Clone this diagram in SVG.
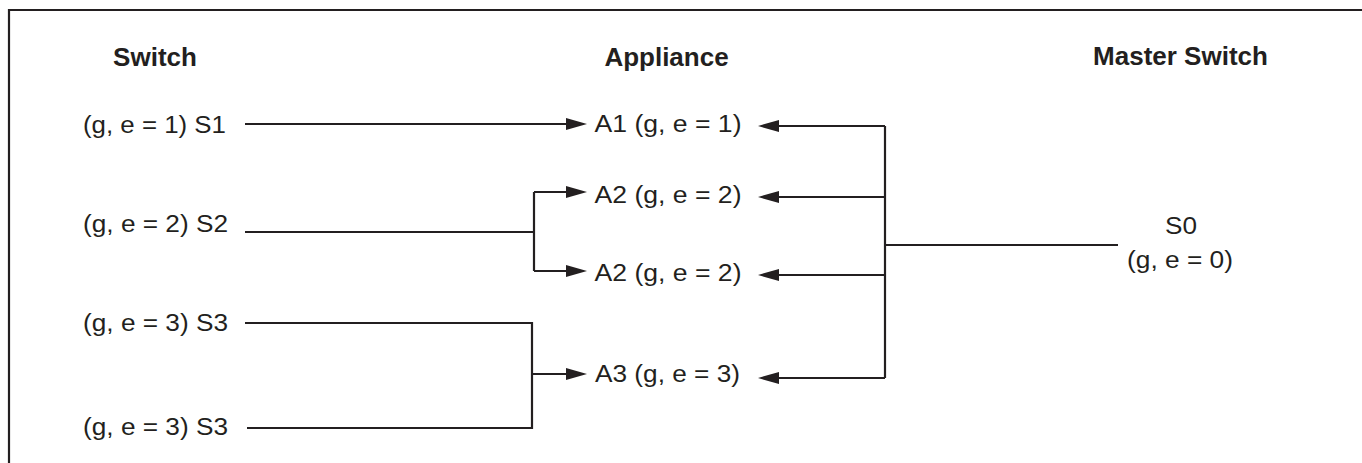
<svg xmlns="http://www.w3.org/2000/svg" width="1362" height="463" viewBox="0 0 1362 463">
<style>
.hd{font-family:"Liberation Sans",Arial,sans-serif;font-weight:bold;font-size:26px;fill:#231f20;text-anchor:middle}
.t{font-family:"Liberation Sans",Arial,sans-serif;font-size:23px;fill:#231f20}
.ln{fill:none;stroke:#231f20;stroke-width:2.2}
.ar{fill:none;stroke:#231f20;stroke-width:2.2;marker-end:url(#ah)}
</style>
<defs>
<marker id="ah" markerUnits="userSpaceOnUse" markerWidth="22" markerHeight="12" refX="6" refY="6" orient="auto" viewBox="0 0 22 12">
<path d="M0,0 L21,6 L0,12 z" fill="#231f20"/>
</marker>
</defs>
<rect width="1362" height="463" fill="#fff"/>
<path class="ln" d="M9,463 V10 H1362"/>
<g id="headers">
<text class="hd" x="155" y="66">Switch</text>
<text class="hd" x="666.5" y="66">Appliance</text>
<text class="hd" x="1180.5" y="65">Master Switch</text>
</g>
<g id="S1"><text class="t" x="83" y="132.5" textLength="143" lengthAdjust="spacingAndGlyphs">(g, e = 1) S1</text></g>
<g id="S2"><text class="t" x="83" y="231.5" textLength="145" lengthAdjust="spacingAndGlyphs">(g, e = 2) S2</text></g>
<g id="S3a"><text class="t" x="83" y="331" textLength="145" lengthAdjust="spacingAndGlyphs">(g, e = 3) S3</text></g>
<g id="S3b"><text class="t" x="83" y="435" textLength="145" lengthAdjust="spacingAndGlyphs">(g, e = 3) S3</text></g>
<g id="A1"><text class="t" x="594.5" y="132" textLength="147" lengthAdjust="spacingAndGlyphs">A1 (g, e = 1)</text></g>
<g id="A2a"><text class="t" x="594.5" y="203" textLength="147" lengthAdjust="spacingAndGlyphs">A2 (g, e = 2)</text></g>
<g id="A2b"><text class="t" x="594.5" y="281" textLength="147" lengthAdjust="spacingAndGlyphs">A2 (g, e = 2)</text></g>
<g id="A3"><text class="t" x="595" y="382" textLength="145" lengthAdjust="spacingAndGlyphs">A3 (g, e = 3)</text></g>
<g id="S0">
<text class="t" x="1165" y="234" textLength="32" lengthAdjust="spacingAndGlyphs">S0</text>
<text class="t" x="1127" y="268" textLength="106" lengthAdjust="spacingAndGlyphs">(g, e = 0)</text>
</g>
<g id="connectors">
<path class="ar" d="M245,124 H572"/>
<path class="ln" d="M245,232 H534 M534,192 V271"/>
<path class="ar" d="M534,192 H572"/>
<path class="ar" d="M534,271 H572"/>
<path class="ln" d="M245,323 H532 V428 H247"/>
<path class="ar" d="M532,374 H572"/>
<path class="ln" d="M885,126 V378 M885,245 H1118"/>
<path class="ar" d="M885,126 H773"/>
<path class="ar" d="M885,197 H773"/>
<path class="ar" d="M885,275 H773"/>
<path class="ar" d="M885,378 H773"/>
</g>
</svg>
